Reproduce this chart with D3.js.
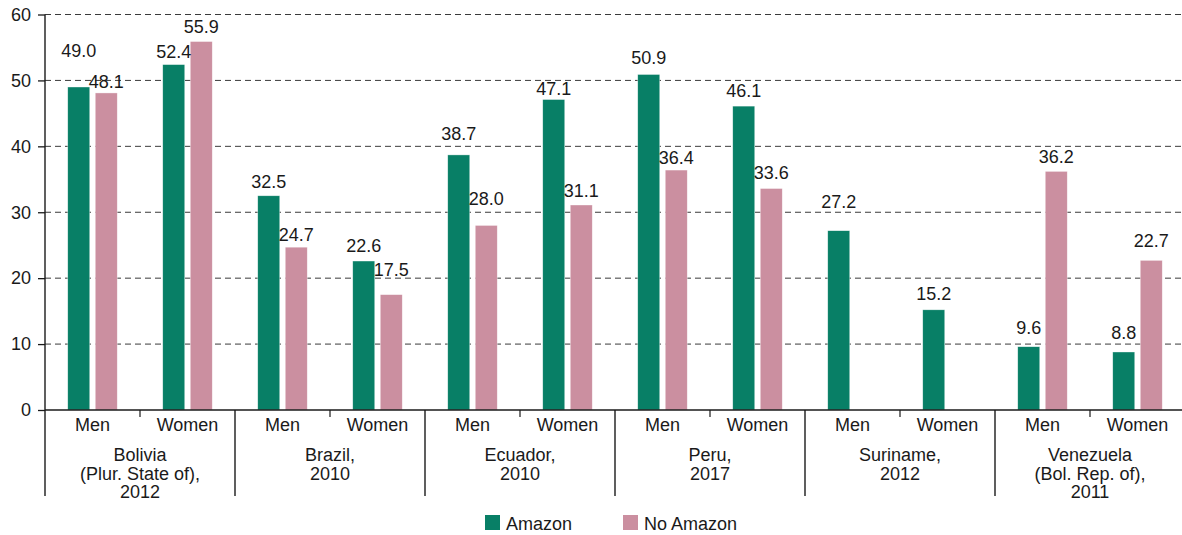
<!DOCTYPE html>
<html>
<head>
<meta charset="utf-8">
<script src="https://cdn.jsdelivr.net/npm/d3@7"></script>
<style>
  html, body { margin: 0; padding: 0; background: #fff; }
  svg text { font-family: "Liberation Sans", Arial, Helvetica, sans-serif; fill: #1a1a1a; }
</style>
</head>
<body>
<svg id="chart" width="1182" height="535"></svg>
<script>
// ---------------- data ----------------
const countries = ["Bolivia", "Brazil", "Ecuador", "Peru", "Suriname", "Venezuela"];
const countryLabels = [
  ["Bolivia", "(Plur. State of),", "2012"],
  ["Brazil,", "2010"],
  ["Ecuador,", "2010"],
  ["Peru,", "2017"],
  ["Suriname,", "2012"],
  ["Venezuela", "(Bol. Rep. of),", "2011"]
];
const sexes = ["Men", "Women"];
const seriesNames = ["Amazon", "No Amazon"];
// values per country: [Men, Women]
const amazon   = [[49.0, 52.4], [32.5, 22.6], [38.7, 47.1], [50.9, 46.1], [27.2, 15.2], [9.6, 8.8]];
const noAmazon = [[48.1, 55.9], [24.7, 17.5], [28.0, 31.1], [36.4, 33.6], [null, null], [36.2, 22.7]];
const yTicks = [0, 10, 20, 30, 40, 50, 60];

// ---------------- styling / layout ----------------
const colors = { "Amazon": "#087f66", "No Amazon": "#cb8fa0" };
const FS = "18px";
// gap (px) between value label baseline and bar top, as placed in the original
const labelGap = {
  "Bolivia|Men|Amazon": 30, "Bolivia|Men|No Amazon": 5, "Bolivia|Women|Amazon": 7, "Bolivia|Women|No Amazon": 9,
  "Brazil|Men|Amazon": 8, "Brazil|Men|No Amazon": 6, "Brazil|Women|Amazon": 9, "Brazil|Women|No Amazon": 19,
  "Ecuador|Men|Amazon": 15, "Ecuador|Men|No Amazon": 20, "Ecuador|Women|Amazon": 5, "Ecuador|Women|No Amazon": 8,
  "Peru|Men|Amazon": 10, "Peru|Men|No Amazon": 6, "Peru|Women|Amazon": 9, "Peru|Women|No Amazon": 10,
  "Suriname|Men|Amazon": 23, "Suriname|Women|Amazon": 10,
  "Venezuela|Men|Amazon": 13, "Venezuela|Men|No Amazon": 8, "Venezuela|Women|Amazon": 13, "Venezuela|Women|No Amazon": 13
};

const svg = d3.select("#chart");
const mLeft = 45, mRight = 1185, mTop = 14.5, mBottom = 410;

const x0 = d3.scaleBand().domain(countries).range([mLeft, mRight]);
const x1 = d3.scaleBand().domain(sexes).range([0, x0.bandwidth()]);
const sub = x1.bandwidth();
const x2 = d3.scaleBand().domain(seriesNames)
  .range([sub / 2 - 27.5, sub / 2 + 27.5]).paddingInner(0.2).paddingOuter(0.1);
const y = d3.scaleLinear().domain([0, 60]).range([mBottom, mTop]);

// gridlines
svg.append("g").selectAll("line")
  .data(yTicks.filter(t => t > 0))
  .join("line")
  .attr("x1", mLeft).attr("x2", 1182)
  .attr("y1", d => y(d)).attr("y2", d => y(d))
  .attr("stroke", "#3a3a3a").attr("stroke-width", 1)
  .attr("stroke-dasharray", "6,4");

// y axis
const yAxis = svg.append("g").attr("transform", `translate(${mLeft},0)`)
  .call(d3.axisLeft(y).tickValues(yTicks).tickSize(7).tickPadding(7).tickFormat(d3.format("d")));
yAxis.select(".domain").remove();
yAxis.selectAll(".tick line").attr("stroke", "#1a1a1a").attr("stroke-width", 1.3);
yAxis.selectAll(".tick text").style("font-size", FS).attr("fill", "#1a1a1a")
  .style("font-family", '"Liberation Sans", Arial, sans-serif');

// flatten data
const rows = [];
countries.forEach((c, i) => {
  sexes.forEach((s, j) => {
    rows.push({ country: c, sex: s, series: "Amazon", value: amazon[i][j] });
    rows.push({ country: c, sex: s, series: "No Amazon", value: noAmazon[i][j] });
  });
});
const valid = rows.filter(d => d.value !== null);
const bx = d => x0(d.country) + x1(d.sex) + x2(d.series);

// bars
svg.append("g").selectAll("rect")
  .data(valid).join("rect")
  .attr("x", d => bx(d))
  .attr("width", x2.bandwidth())
  .attr("y", d => y(d.value))
  .attr("height", d => y(0) - y(d.value))
  .attr("fill", d => colors[d.series])
  .attr("stroke", "rgba(255,255,255,0.6)").attr("stroke-width", 0.6);

// value labels
svg.append("g").selectAll("text")
  .data(valid).join("text")
  .attr("x", d => bx(d) + x2.bandwidth() / 2)
  .attr("y", d => y(d.value) - (labelGap[`${d.country}|${d.sex}|${d.series}`] ?? 8))
  .attr("text-anchor", "middle")
  .style("font-size", FS)
  .text(d => d3.format(".1f")(d.value));

// x axis baseline + y axis line
svg.append("line").attr("x1", mLeft).attr("x2", 1182).attr("y1", mBottom).attr("y2", mBottom)
  .attr("stroke", "#1a1a1a").attr("stroke-width", 1.4);
svg.append("line").attr("x1", mLeft).attr("x2", mLeft).attr("y1", mTop).attr("y2", mBottom)
  .attr("stroke", "#1a1a1a").attr("stroke-width", 1.4);

// group separators
const seps = countries.map(c => x0(c)).concat([mRight]);
svg.append("g").selectAll("line").data(seps).join("line")
  .attr("x1", d => d).attr("x2", d => d)
  .attr("y1", mBottom).attr("y2", 496)
  .attr("stroke", "#1a1a1a").attr("stroke-width", 1.4);

// sub ticks between Men and Women
svg.append("g").selectAll("line").data(countries).join("line")
  .attr("x1", c => x0(c) + x1("Women")).attr("x2", c => x0(c) + x1("Women"))
  .attr("y1", mBottom).attr("y2", mBottom + 7)
  .attr("stroke", "#1a1a1a").attr("stroke-width", 1.2);

// Men/Women labels
const sexLabels = [];
countries.forEach(c => sexes.forEach(s => sexLabels.push({ c, s })));
svg.append("g").selectAll("text").data(sexLabels).join("text")
  .attr("x", d => x0(d.c) + x1(d.s) + sub / 2)
  .attr("y", 431)
  .attr("text-anchor", "middle")
  .style("font-size", FS)
  .text(d => d.s);

// country labels
const cg = svg.append("g").selectAll("text").data(countries).join("text")
  .attr("x", c => x0(c) + x0.bandwidth() / 2)
  .attr("y", 461)
  .attr("text-anchor", "middle")
  .style("font-size", FS);
cg.each(function (c, i) {
  d3.select(this).selectAll("tspan").data(countryLabels[i]).join("tspan")
    .attr("x", x0(c) + x0.bandwidth() / 2)
    .attr("dy", (d, k) => k === 0 ? 0 : 18.5)
    .text(d => d);
});

// legend
const legendItems = [{ name: "Amazon", x: 485 }, { name: "No Amazon", x: 623 }];
const lg = svg.append("g").selectAll("g").data(legendItems).join("g")
  .attr("transform", d => `translate(${d.x},515)`);
lg.append("rect").attr("width", 15).attr("height", 15).attr("fill", d => colors[d.name]);
lg.append("text").attr("x", 21).attr("y", 15).style("font-size", FS).text(d => d.name);
</script>
</body>
</html>
